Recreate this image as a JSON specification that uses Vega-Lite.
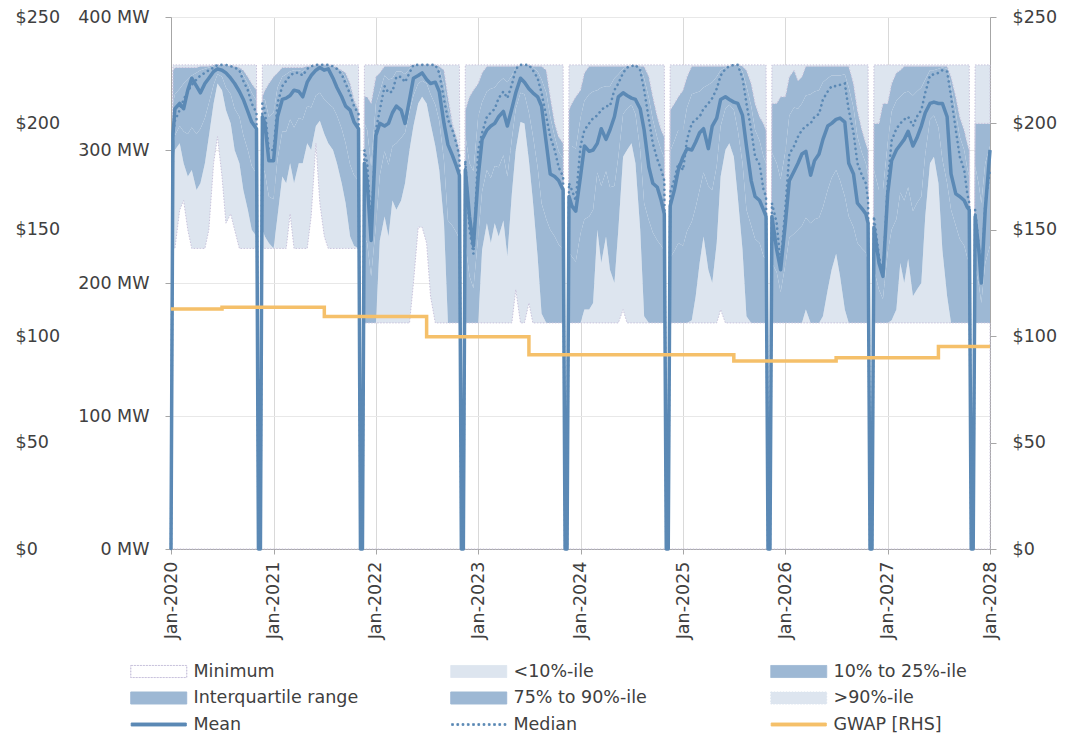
{
  "$schema": "https://vega.github.io/schema/vega-lite/v6.json",
  "width": 819,
  "height": 532,
  "autosize": {"type": "none"},
  "padding": {"left": 171, "top": 17, "right": 89, "bottom": 189},
  "config": {
    "font": "DejaVu Sans",
    "view": {"stroke": null},
    "axis": {"labelFontSize": 17.5, "labelColor": "#404040", "labelFont": "DejaVu Sans", "domainColor": "#a6a6a6", "tickColor": "#a6a6a6", "labelFlush": false, "labelOverlap": false}
  },
  "datasets": {
    "dispatch": [
      {"d":"2020-01-01","mn":0,"p10":0,"p25":0,"p75":0,"p90":0,"mx":0,"avg":0,"med":0},
      {"d":"2020-01-08","mn":226,"p10":290,"p25":300,"p75":335,"p90":360,"mx":364,"avg":312,"med":310},
      {"d":"2020-01-15","mn":226,"p10":300,"p25":311,"p75":342,"p90":362,"mx":364,"avg":331,"med":322},
      {"d":"2020-02-01","mn":255,"p10":305,"p25":318,"p75":346,"p90":362,"mx":364,"avg":335,"med":330},
      {"d":"2020-02-15","mn":262,"p10":290,"p25":314,"p75":350,"p90":362,"mx":364,"avg":331,"med":338},
      {"d":"2020-03-01","mn":240,"p10":280,"p25":312,"p75":353,"p90":362,"mx":364,"avg":345,"med":344},
      {"d":"2020-03-15","mn":226,"p10":285,"p25":317,"p75":356,"p90":362,"mx":364,"avg":354,"med":349},
      {"d":"2020-04-01","mn":226,"p10":270,"p25":312,"p75":358,"p90":362,"mx":364,"avg":348,"med":353},
      {"d":"2020-04-15","mn":226,"p10":275,"p25":316,"p75":360,"p90":363,"mx":364,"avg":343,"med":356},
      {"d":"2020-05-01","mn":226,"p10":290,"p25":324,"p75":361,"p90":363,"mx":364,"avg":350,"med":358},
      {"d":"2020-05-15","mn":240,"p10":310,"p25":335,"p75":362,"p90":363,"mx":364,"avg":354,"med":360},
      {"d":"2020-06-01","mn":290,"p10":335,"p25":349,"p75":363,"p90":364,"mx":364,"avg":359,"med":362},
      {"d":"2020-06-15","mn":310,"p10":350,"p25":357,"p75":364,"p90":364,"mx":364,"avg":361,"med":364},
      {"d":"2020-07-01","mn":280,"p10":345,"p25":355,"p75":364,"p90":364,"mx":364,"avg":360,"med":364},
      {"d":"2020-07-15","mn":245,"p10":330,"p25":347,"p75":364,"p90":364,"mx":364,"avg":358,"med":364},
      {"d":"2020-08-01","mn":252,"p10":320,"p25":342,"p75":363,"p90":363,"mx":364,"avg":354,"med":363},
      {"d":"2020-08-15","mn":240,"p10":300,"p25":331,"p75":363,"p90":363,"mx":364,"avg":350,"med":362},
      {"d":"2020-09-01","mn":226,"p10":290,"p25":325,"p75":361,"p90":362,"mx":364,"avg":344,"med":360},
      {"d":"2020-09-15","mn":226,"p10":270,"p25":311,"p75":356,"p90":360,"mx":364,"avg":338,"med":352},
      {"d":"2020-10-01","mn":226,"p10":255,"p25":300,"p75":350,"p90":355,"mx":364,"avg":329,"med":345},
      {"d":"2020-10-15","mn":226,"p10":240,"p25":288,"p75":343,"p90":350,"mx":364,"avg":321,"med":335},
      {"d":"2020-11-01","mn":226,"p10":235,"p25":282,"p75":337,"p90":345,"mx":364,"avg":316,"med":328},
      {"d":"2020-11-08","mn":0,"p10":0,"p25":0,"p75":0,"p90":0,"mx":0,"avg":0,"med":0},
      {"d":"2020-11-15","mn":0,"p10":0,"p25":0,"p75":0,"p90":0,"mx":0,"avg":0,"med":0},
      {"d":"2020-11-22","mn":226,"p10":240,"p25":288,"p75":338,"p90":340,"mx":364,"avg":325,"med":335},
      {"d":"2020-12-01","mn":226,"p10":235,"p25":283,"p75":338,"p90":345,"mx":364,"avg":320,"med":330},
      {"d":"2020-12-15","mn":226,"p10":230,"p25":265,"p75":325,"p90":350,"mx":364,"avg":292,"med":300},
      {"d":"2021-01-01","mn":226,"p10":226,"p25":263,"p75":328,"p90":355,"mx":364,"avg":292,"med":300},
      {"d":"2021-01-15","mn":226,"p10":250,"p25":293,"p75":347,"p90":358,"mx":364,"avg":325,"med":335},
      {"d":"2021-02-01","mn":226,"p10":280,"p25":314,"p75":355,"p90":362,"mx":364,"avg":338,"med":348},
      {"d":"2021-02-15","mn":226,"p10":275,"p25":314,"p75":357,"p90":362,"mx":364,"avg":339,"med":352},
      {"d":"2021-03-01","mn":252,"p10":290,"p25":323,"p75":359,"p90":362,"mx":364,"avg":341,"med":356},
      {"d":"2021-03-15","mn":226,"p10":275,"p25":317,"p75":360,"p90":362,"mx":364,"avg":345,"med":358},
      {"d":"2021-04-01","mn":226,"p10":290,"p25":324,"p75":360,"p90":362,"mx":364,"avg":344,"med":358},
      {"d":"2021-04-15","mn":226,"p10":290,"p25":323,"p75":359,"p90":362,"mx":364,"avg":340,"med":356},
      {"d":"2021-05-01","mn":226,"p10":305,"p25":333,"p75":362,"p90":363,"mx":364,"avg":351,"med":361},
      {"d":"2021-05-15","mn":250,"p10":300,"p25":332,"p75":363,"p90":363,"mx":364,"avg":356,"med":363},
      {"d":"2021-06-01","mn":305,"p10":318,"p25":341,"p75":364,"p90":364,"mx":364,"avg":360,"med":364},
      {"d":"2021-06-15","mn":260,"p10":322,"p25":343,"p75":364,"p90":364,"mx":364,"avg":362,"med":364},
      {"d":"2021-07-01","mn":235,"p10":312,"p25":338,"p75":364,"p90":364,"mx":364,"avg":360,"med":364},
      {"d":"2021-07-15","mn":226,"p10":305,"p25":335,"p75":364,"p90":364,"mx":364,"avg":361,"med":364},
      {"d":"2021-08-01","mn":226,"p10":300,"p25":332,"p75":363,"p90":363,"mx":364,"avg":354,"med":363},
      {"d":"2021-08-15","mn":226,"p10":290,"p25":326,"p75":362,"p90":362,"mx":364,"avg":347,"med":361},
      {"d":"2021-09-01","mn":226,"p10":275,"p25":316,"p75":359,"p90":360,"mx":364,"avg":340,"med":357},
      {"d":"2021-09-15","mn":226,"p10":260,"p25":305,"p75":354,"p90":358,"mx":364,"avg":333,"med":350},
      {"d":"2021-10-01","mn":226,"p10":235,"p25":289,"p75":346,"p90":350,"mx":364,"avg":330,"med":342},
      {"d":"2021-10-15","mn":226,"p10":228,"p25":281,"p75":336,"p90":338,"mx":364,"avg":321,"med":333},
      {"d":"2021-10-31","mn":226,"p10":226,"p25":277,"p75":329,"p90":330,"mx":364,"avg":316,"med":327},
      {"d":"2021-11-07","mn":0,"p10":0,"p25":0,"p75":0,"p90":0,"mx":0,"avg":0,"med":0},
      {"d":"2021-11-14","mn":0,"p10":0,"p25":0,"p75":0,"p90":0,"mx":0,"avg":0,"med":0},
      {"d":"2021-11-21","mn":170,"p10":170,"p25":235,"p75":320,"p90":340,"mx":364,"avg":290,"med":300},
      {"d":"2021-12-01","mn":170,"p10":170,"p25":230,"p75":315,"p90":340,"mx":364,"avg":275,"med":290},
      {"d":"2021-12-15","mn":170,"p10":170,"p25":205,"p75":288,"p90":335,"mx":364,"avg":232,"med":240},
      {"d":"2022-01-01","mn":170,"p10":170,"p25":243,"p75":335,"p90":355,"mx":364,"avg":311,"med":315},
      {"d":"2022-01-15","mn":170,"p10":232,"p25":281,"p75":344,"p90":358,"mx":364,"avg":320,"med":330},
      {"d":"2022-02-01","mn":170,"p10":250,"p25":299,"p75":356,"p90":363,"mx":364,"avg":318,"med":348},
      {"d":"2022-02-15","mn":170,"p10":235,"p25":289,"p75":353,"p90":363,"mx":364,"avg":320,"med":343},
      {"d":"2022-03-01","mn":170,"p10":262,"p25":303,"p75":354,"p90":363,"mx":364,"avg":328,"med":344},
      {"d":"2022-03-15","mn":170,"p10":255,"p25":305,"p75":359,"p90":363,"mx":364,"avg":333,"med":355},
      {"d":"2022-04-01","mn":170,"p10":262,"p25":309,"p75":359,"p90":363,"mx":364,"avg":330,"med":355},
      {"d":"2022-04-15","mn":170,"p10":275,"p25":313,"p75":357,"p90":363,"mx":364,"avg":320,"med":351},
      {"d":"2022-05-01","mn":170,"p10":300,"p25":329,"p75":361,"p90":363,"mx":364,"avg":338,"med":358},
      {"d":"2022-05-15","mn":200,"p10":318,"p25":341,"p75":364,"p90":364,"mx":364,"avg":354,"med":364},
      {"d":"2022-06-01","mn":242,"p10":335,"p25":350,"p75":364,"p90":364,"mx":364,"avg":356,"med":364},
      {"d":"2022-06-15","mn":242,"p10":340,"p25":352,"p75":364,"p90":364,"mx":364,"avg":358,"med":364},
      {"d":"2022-07-01","mn":230,"p10":335,"p25":350,"p75":364,"p90":364,"mx":364,"avg":353,"med":364},
      {"d":"2022-07-15","mn":190,"p10":320,"p25":342,"p75":364,"p90":364,"mx":364,"avg":350,"med":364},
      {"d":"2022-08-01","mn":170,"p10":303,"p25":334,"p75":364,"p90":364,"mx":364,"avg":351,"med":364},
      {"d":"2022-08-15","mn":170,"p10":285,"p25":322,"p75":361,"p90":363,"mx":364,"avg":344,"med":358},
      {"d":"2022-09-01","mn":170,"p10":245,"p25":292,"p75":349,"p90":360,"mx":364,"avg":320,"med":338},
      {"d":"2022-09-15","mn":170,"p10":170,"p25":247,"p75":332,"p90":340,"mx":364,"avg":304,"med":323},
      {"d":"2022-10-01","mn":170,"p10":170,"p25":243,"p75":318,"p90":320,"mx":364,"avg":296,"med":315},
      {"d":"2022-10-15","mn":170,"p10":170,"p25":238,"p75":308,"p90":310,"mx":364,"avg":288,"med":305},
      {"d":"2022-10-26","mn":170,"p10":170,"p25":233,"p75":298,"p90":300,"mx":364,"avg":281,"med":295},
      {"d":"2022-11-02","mn":0,"p10":0,"p25":0,"p75":0,"p90":0,"mx":0,"avg":0,"med":0},
      {"d":"2022-11-09","mn":0,"p10":0,"p25":0,"p75":0,"p90":0,"mx":0,"avg":0,"med":0},
      {"d":"2022-11-16","mn":170,"p10":170,"p25":231,"p75":311,"p90":330,"mx":364,"avg":285,"med":292},
      {"d":"2022-12-01","mn":170,"p10":170,"p25":205,"p75":290,"p90":340,"mx":364,"avg":250,"med":240},
      {"d":"2022-12-15","mn":170,"p10":170,"p25":196,"p75":284,"p90":345,"mx":364,"avg":228,"med":222},
      {"d":"2023-01-01","mn":170,"p10":170,"p25":235,"p75":325,"p90":350,"mx":364,"avg":280,"med":300},
      {"d":"2023-01-15","mn":170,"p10":225,"p25":269,"p75":336,"p90":358,"mx":364,"avg":308,"med":313},
      {"d":"2023-02-01","mn":170,"p10":245,"p25":285,"p75":344,"p90":363,"mx":364,"avg":315,"med":325},
      {"d":"2023-02-15","mn":170,"p10":230,"p25":279,"p75":346,"p90":363,"mx":364,"avg":318,"med":328},
      {"d":"2023-03-01","mn":170,"p10":245,"p25":288,"p75":347,"p90":363,"mx":364,"avg":320,"med":331},
      {"d":"2023-03-15","mn":170,"p10":235,"p25":287,"p75":351,"p90":363,"mx":364,"avg":325,"med":339},
      {"d":"2023-04-01","mn":170,"p10":247,"p25":296,"p75":354,"p90":363,"mx":364,"avg":329,"med":344},
      {"d":"2023-04-15","mn":170,"p10":220,"p25":280,"p75":351,"p90":363,"mx":364,"avg":318,"med":339},
      {"d":"2023-05-01","mn":170,"p10":267,"p25":308,"p75":356,"p90":363,"mx":364,"avg":331,"med":349},
      {"d":"2023-05-15","mn":195,"p10":300,"p25":331,"p75":362,"p90":363,"mx":364,"avg":343,"med":361},
      {"d":"2023-06-01","mn":170,"p10":321,"p25":343,"p75":364,"p90":364,"mx":364,"avg":354,"med":364},
      {"d":"2023-06-15","mn":170,"p10":320,"p25":342,"p75":364,"p90":364,"mx":364,"avg":351,"med":364},
      {"d":"2023-07-01","mn":185,"p10":292,"p25":328,"p75":364,"p90":364,"mx":364,"avg":346,"med":364},
      {"d":"2023-07-15","mn":170,"p10":262,"p25":311,"p75":362,"p90":363,"mx":364,"avg":343,"med":360},
      {"d":"2023-08-01","mn":170,"p10":220,"p25":287,"p75":359,"p90":363,"mx":364,"avg":340,"med":354},
      {"d":"2023-08-15","mn":170,"p10":177,"p25":260,"p75":353,"p90":363,"mx":364,"avg":333,"med":343},
      {"d":"2023-09-01","mn":170,"p10":170,"p25":248,"p75":343,"p90":360,"mx":364,"avg":305,"med":325},
      {"d":"2023-09-15","mn":170,"p10":170,"p25":240,"p75":325,"p90":340,"mx":364,"avg":282,"med":310},
      {"d":"2023-10-01","mn":170,"p10":170,"p25":235,"p75":310,"p90":320,"mx":364,"avg":280,"med":300},
      {"d":"2023-10-15","mn":170,"p10":170,"p25":229,"p75":299,"p90":310,"mx":364,"avg":277,"med":287},
      {"d":"2023-10-31","mn":170,"p10":170,"p25":225,"p75":293,"p90":305,"mx":364,"avg":270,"med":280},
      {"d":"2023-11-07","mn":0,"p10":0,"p25":0,"p75":0,"p90":0,"mx":0,"avg":0,"med":0},
      {"d":"2023-11-14","mn":0,"p10":0,"p25":0,"p75":0,"p90":0,"mx":0,"avg":0,"med":0},
      {"d":"2023-11-21","mn":170,"p10":170,"p25":223,"p75":303,"p90":330,"mx":364,"avg":265,"med":275},
      {"d":"2023-12-01","mn":170,"p10":170,"p25":220,"p75":303,"p90":335,"mx":364,"avg":258,"med":270},
      {"d":"2023-12-15","mn":170,"p10":170,"p25":216,"p75":301,"p90":340,"mx":364,"avg":254,"med":262},
      {"d":"2024-01-01","mn":170,"p10":170,"p25":237,"p75":324,"p90":345,"mx":364,"avg":280,"med":303},
      {"d":"2024-01-15","mn":170,"p10":180,"p25":248,"p75":337,"p90":358,"mx":364,"avg":303,"med":315},
      {"d":"2024-02-01","mn":170,"p10":180,"p25":250,"p75":342,"p90":363,"mx":364,"avg":299,"med":320},
      {"d":"2024-02-15","mn":170,"p10":185,"p25":255,"p75":344,"p90":363,"mx":364,"avg":300,"med":324},
      {"d":"2024-03-01","mn":170,"p10":240,"p25":283,"p75":345,"p90":363,"mx":364,"avg":305,"med":326},
      {"d":"2024-03-15","mn":170,"p10":215,"p25":273,"p75":347,"p90":363,"mx":364,"avg":316,"med":330},
      {"d":"2024-04-01","mn":170,"p10":235,"p25":284,"p75":348,"p90":363,"mx":364,"avg":308,"med":333},
      {"d":"2024-04-15","mn":170,"p10":210,"p25":272,"p75":348,"p90":363,"mx":364,"avg":315,"med":333},
      {"d":"2024-05-01","mn":170,"p10":200,"p25":273,"p75":354,"p90":363,"mx":364,"avg":325,"med":345},
      {"d":"2024-05-15","mn":170,"p10":240,"p25":295,"p75":357,"p90":363,"mx":364,"avg":340,"med":350},
      {"d":"2024-06-01","mn":180,"p10":295,"p25":327,"p75":361,"p90":363,"mx":364,"avg":343,"med":358},
      {"d":"2024-06-15","mn":170,"p10":300,"p25":331,"p75":363,"p90":363,"mx":364,"avg":341,"med":362},
      {"d":"2024-07-01","mn":170,"p10":305,"p25":334,"p75":363,"p90":363,"mx":364,"avg":339,"med":363},
      {"d":"2024-07-15","mn":170,"p10":290,"p25":327,"p75":364,"p90":364,"mx":364,"avg":338,"med":364},
      {"d":"2024-08-01","mn":170,"p10":240,"p25":300,"p75":362,"p90":363,"mx":364,"avg":331,"med":360},
      {"d":"2024-08-15","mn":170,"p10":175,"p25":260,"p75":354,"p90":363,"mx":364,"avg":315,"med":345},
      {"d":"2024-09-01","mn":170,"p10":170,"p25":247,"p75":339,"p90":355,"mx":364,"avg":287,"med":323},
      {"d":"2024-09-15","mn":170,"p10":170,"p25":238,"p75":323,"p90":340,"mx":364,"avg":275,"med":305},
      {"d":"2024-10-01","mn":170,"p10":170,"p25":232,"p75":309,"p90":325,"mx":364,"avg":272,"med":293},
      {"d":"2024-10-15","mn":170,"p10":170,"p25":228,"p75":300,"p90":315,"mx":364,"avg":262,"med":285},
      {"d":"2024-10-26","mn":170,"p10":170,"p25":224,"p75":294,"p90":310,"mx":364,"avg":252,"med":277},
      {"d":"2024-11-02","mn":0,"p10":0,"p25":0,"p75":0,"p90":0,"mx":0,"avg":0,"med":0},
      {"d":"2024-11-09","mn":0,"p10":0,"p25":0,"p75":0,"p90":0,"mx":0,"avg":0,"med":0},
      {"d":"2024-11-16","mn":170,"p10":170,"p25":219,"p75":299,"p90":330,"mx":364,"avg":258,"med":268},
      {"d":"2024-12-01","mn":170,"p10":170,"p25":224,"p75":307,"p90":335,"mx":364,"avg":270,"med":278},
      {"d":"2024-12-15","mn":170,"p10":170,"p25":230,"p75":315,"p90":340,"mx":364,"avg":285,"med":290},
      {"d":"2025-01-01","mn":170,"p10":170,"p25":228,"p75":315,"p90":345,"mx":364,"avg":295,"med":285},
      {"d":"2025-01-15","mn":170,"p10":170,"p25":239,"p75":332,"p90":355,"mx":364,"avg":301,"med":308},
      {"d":"2025-02-01","mn":170,"p10":172,"p25":246,"p75":342,"p90":363,"mx":364,"avg":300,"med":320},
      {"d":"2025-02-15","mn":170,"p10":190,"p25":257,"p75":343,"p90":363,"mx":364,"avg":306,"med":323},
      {"d":"2025-03-01","mn":170,"p10":215,"p25":270,"p75":344,"p90":363,"mx":364,"avg":313,"med":325},
      {"d":"2025-03-15","mn":170,"p10":235,"p25":283,"p75":347,"p90":363,"mx":364,"avg":316,"med":331},
      {"d":"2025-04-01","mn":170,"p10":210,"p25":273,"p75":349,"p90":363,"mx":364,"avg":301,"med":335},
      {"d":"2025-04-15","mn":170,"p10":200,"p25":270,"p75":351,"p90":363,"mx":364,"avg":318,"med":339},
      {"d":"2025-05-01","mn":170,"p10":230,"p25":288,"p75":355,"p90":363,"mx":364,"avg":324,"med":346},
      {"d":"2025-05-15","mn":180,"p10":280,"p25":318,"p75":360,"p90":363,"mx":364,"avg":338,"med":356},
      {"d":"2025-06-01","mn":170,"p10":300,"p25":331,"p75":362,"p90":363,"mx":364,"avg":340,"med":361},
      {"d":"2025-06-15","mn":170,"p10":305,"p25":334,"p75":363,"p90":363,"mx":364,"avg":338,"med":363},
      {"d":"2025-07-01","mn":170,"p10":295,"p25":330,"p75":364,"p90":364,"mx":364,"avg":336,"med":364},
      {"d":"2025-07-15","mn":170,"p10":265,"p25":315,"p75":364,"p90":364,"mx":364,"avg":335,"med":364},
      {"d":"2025-08-01","mn":170,"p10":225,"p25":290,"p75":359,"p90":363,"mx":364,"avg":326,"med":354},
      {"d":"2025-08-15","mn":170,"p10":175,"p25":255,"p75":348,"p90":360,"mx":364,"avg":303,"med":335},
      {"d":"2025-09-01","mn":170,"p10":170,"p25":243,"p75":333,"p90":350,"mx":364,"avg":277,"med":315},
      {"d":"2025-09-15","mn":170,"p10":170,"p25":233,"p75":315,"p90":335,"mx":364,"avg":265,"med":295},
      {"d":"2025-10-01","mn":170,"p10":170,"p25":230,"p75":307,"p90":325,"mx":364,"avg":262,"med":289},
      {"d":"2025-10-15","mn":170,"p10":170,"p25":220,"p75":295,"p90":320,"mx":364,"avg":255,"med":270},
      {"d":"2025-10-24","mn":170,"p10":170,"p25":218,"p75":290,"p90":315,"mx":364,"avg":250,"med":265},
      {"d":"2025-10-31","mn":0,"p10":0,"p25":0,"p75":0,"p90":0,"mx":0,"avg":0,"med":0},
      {"d":"2025-11-07","mn":0,"p10":0,"p25":0,"p75":0,"p90":0,"mx":0,"avg":0,"med":0},
      {"d":"2025-11-14","mn":170,"p10":170,"p25":215,"p75":298,"p90":335,"mx":364,"avg":250,"med":260},
      {"d":"2025-12-01","mn":170,"p10":170,"p25":208,"p75":290,"p90":335,"mx":364,"avg":225,"med":245},
      {"d":"2025-12-15","mn":170,"p10":170,"p25":193,"p75":278,"p90":340,"mx":364,"avg":210,"med":215},
      {"d":"2026-01-01","mn":170,"p10":170,"p25":214,"p75":299,"p90":340,"mx":364,"avg":245,"med":257},
      {"d":"2026-01-15","mn":170,"p10":170,"p25":234,"p75":326,"p90":355,"mx":364,"avg":277,"med":297},
      {"d":"2026-02-01","mn":170,"p10":170,"p25":237,"p75":332,"p90":360,"mx":364,"avg":284,"med":303},
      {"d":"2026-02-15","mn":170,"p10":170,"p25":240,"p75":331,"p90":352,"mx":364,"avg":290,"med":310},
      {"d":"2026-03-01","mn":170,"p10":170,"p25":243,"p75":335,"p90":355,"mx":364,"avg":297,"med":315},
      {"d":"2026-03-15","mn":170,"p10":180,"p25":249,"p75":341,"p90":363,"mx":364,"avg":299,"med":318},
      {"d":"2026-04-01","mn":170,"p10":170,"p25":245,"p75":342,"p90":363,"mx":364,"avg":281,"med":320},
      {"d":"2026-04-15","mn":170,"p10":170,"p25":248,"p75":344,"p90":363,"mx":364,"avg":292,"med":325},
      {"d":"2026-05-01","mn":170,"p10":170,"p25":249,"p75":345,"p90":363,"mx":364,"avg":297,"med":327},
      {"d":"2026-05-15","mn":170,"p10":175,"p25":257,"p75":351,"p90":363,"mx":364,"avg":308,"med":338},
      {"d":"2026-06-01","mn":170,"p10":195,"p25":270,"p75":354,"p90":363,"mx":364,"avg":318,"med":344},
      {"d":"2026-06-15","mn":170,"p10":210,"p25":279,"p75":356,"p90":363,"mx":364,"avg":320,"med":348},
      {"d":"2026-07-01","mn":170,"p10":222,"p25":285,"p75":356,"p90":363,"mx":364,"avg":323,"med":348},
      {"d":"2026-07-15","mn":170,"p10":205,"p25":277,"p75":356,"p90":363,"mx":364,"avg":324,"med":349},
      {"d":"2026-08-01","mn":170,"p10":180,"p25":265,"p75":357,"p90":363,"mx":364,"avg":321,"med":350},
      {"d":"2026-08-15","mn":170,"p10":170,"p25":250,"p75":347,"p90":363,"mx":364,"avg":290,"med":330},
      {"d":"2026-09-01","mn":170,"p10":170,"p25":242,"p75":332,"p90":350,"mx":364,"avg":282,"med":313},
      {"d":"2026-09-15","mn":170,"p10":170,"p25":230,"p75":310,"p90":330,"mx":364,"avg":260,"med":290},
      {"d":"2026-10-01","mn":170,"p10":170,"p25":226,"p75":298,"p90":315,"mx":364,"avg":256,"med":281},
      {"d":"2026-10-15","mn":170,"p10":170,"p25":223,"p75":290,"p90":305,"mx":364,"avg":252,"med":275},
      {"d":"2026-10-23","mn":170,"p10":170,"p25":216,"p75":281,"p90":300,"mx":364,"avg":245,"med":262},
      {"d":"2026-10-30","mn":0,"p10":0,"p25":0,"p75":0,"p90":0,"mx":0,"avg":0,"med":0},
      {"d":"2026-11-06","mn":0,"p10":0,"p25":0,"p75":0,"p90":0,"mx":0,"avg":0,"med":0},
      {"d":"2026-11-13","mn":170,"p10":170,"p25":210,"p75":285,"p90":320,"mx":364,"avg":242,"med":250},
      {"d":"2026-12-01","mn":170,"p10":170,"p25":195,"p75":270,"p90":320,"mx":364,"avg":215,"med":220},
      {"d":"2026-12-15","mn":170,"p10":170,"p25":188,"p75":270,"p90":335,"mx":364,"avg":205,"med":205},
      {"d":"2027-01-01","mn":170,"p10":170,"p25":223,"p75":305,"p90":335,"mx":364,"avg":267,"med":275},
      {"d":"2027-01-15","mn":170,"p10":172,"p25":240,"p75":329,"p90":350,"mx":364,"avg":292,"med":307},
      {"d":"2027-02-01","mn":170,"p10":180,"p25":248,"p75":337,"p90":358,"mx":364,"avg":300,"med":316},
      {"d":"2027-02-15","mn":170,"p10":215,"p25":268,"p75":340,"p90":360,"mx":364,"avg":304,"med":320},
      {"d":"2027-03-01","mn":170,"p10":200,"p25":262,"p75":343,"p90":363,"mx":364,"avg":308,"med":323},
      {"d":"2027-03-15","mn":170,"p10":218,"p25":272,"p75":344,"p90":363,"mx":364,"avg":314,"med":325},
      {"d":"2027-04-01","mn":170,"p10":190,"p25":254,"p75":341,"p90":363,"mx":364,"avg":303,"med":318},
      {"d":"2027-04-15","mn":170,"p10":195,"p25":260,"p75":344,"p90":363,"mx":364,"avg":309,"med":325},
      {"d":"2027-05-01","mn":170,"p10":200,"p25":265,"p75":347,"p90":363,"mx":364,"avg":318,"med":330},
      {"d":"2027-05-15","mn":170,"p10":250,"p25":297,"p75":353,"p90":363,"mx":364,"avg":328,"med":343},
      {"d":"2027-06-01","mn":170,"p10":290,"p25":323,"p75":360,"p90":363,"mx":364,"avg":335,"med":356},
      {"d":"2027-06-15","mn":170,"p10":295,"p25":326,"p75":360,"p90":363,"mx":364,"avg":336,"med":357},
      {"d":"2027-07-01","mn":170,"p10":275,"p25":317,"p75":361,"p90":363,"mx":364,"avg":335,"med":358},
      {"d":"2027-07-15","mn":170,"p10":225,"p25":293,"p75":362,"p90":363,"mx":364,"avg":335,"med":360},
      {"d":"2027-08-01","mn":170,"p10":190,"p25":275,"p75":361,"p90":363,"mx":364,"avg":325,"med":359},
      {"d":"2027-08-15","mn":170,"p10":170,"p25":255,"p75":348,"p90":355,"mx":364,"avg":282,"med":340},
      {"d":"2027-09-01","mn":170,"p10":170,"p25":243,"p75":328,"p90":340,"mx":364,"avg":267,"med":315},
      {"d":"2027-09-15","mn":170,"p10":170,"p25":233,"p75":310,"p90":325,"mx":364,"avg":265,"med":295},
      {"d":"2027-10-01","mn":170,"p10":170,"p25":228,"p75":300,"p90":315,"mx":364,"avg":262,"med":285},
      {"d":"2027-10-12","mn":170,"p10":170,"p25":219,"p75":286,"p90":305,"mx":364,"avg":257,"med":267},
      {"d":"2027-10-19","mn":170,"p10":170,"p25":215,"p75":280,"p90":300,"mx":364,"avg":255,"med":260},
      {"d":"2027-10-26","mn":0,"p10":0,"p25":0,"p75":0,"p90":0,"mx":0,"avg":0,"med":0},
      {"d":"2027-11-02","mn":0,"p10":0,"p25":0,"p75":0,"p90":0,"mx":0,"avg":0,"med":0},
      {"d":"2027-11-09","mn":170,"p10":170,"p25":213,"p75":288,"p90":320,"mx":364,"avg":250,"med":255},
      {"d":"2027-11-22","mn":170,"p10":170,"p25":199,"p75":274,"p90":320,"mx":364,"avg":225,"med":228},
      {"d":"2027-12-01","mn":170,"p10":170,"p25":185,"p75":260,"p90":320,"mx":364,"avg":200,"med":200},
      {"d":"2027-12-15","mn":170,"p10":170,"p25":215,"p75":290,"p90":320,"mx":364,"avg":255,"med":260},
      {"d":"2028-01-01","mn":170,"p10":170,"p25":228,"p75":303,"p90":320,"mx":364,"avg":300,"med":285}
    ],
    "gwap": [
      {"d":"2020-01-01","gwap":112.8},
      {"d":"2020-07-01","gwap":113.6},
      {"d":"2021-07-01","gwap":109.2},
      {"d":"2022-07-01","gwap":99.8},
      {"d":"2023-07-01","gwap":91.3},
      {"d":"2024-07-01","gwap":91.3},
      {"d":"2025-07-01","gwap":88.3},
      {"d":"2026-07-01","gwap":89.9},
      {"d":"2027-07-01","gwap":95.2},
      {"d":"2028-01-01","gwap":95.2}
    ]
  },
  "encoding": {
    "x": {
      "field": "d",
      "type": "temporal",
      "title": null,
      "scale": {"type": "utc", "domain": [{"year": 2020, "month": 1, "date": 1, "utc": true}, {"year": 2028, "month": 1, "date": 1, "utc": true}]},
      "axis": {
        "values": [
          {"year": 2020, "month": 1, "date": 1, "utc": true},
          {"year": 2021, "month": 1, "date": 1, "utc": true},
          {"year": 2022, "month": 1, "date": 1, "utc": true},
          {"year": 2023, "month": 1, "date": 1, "utc": true},
          {"year": 2024, "month": 1, "date": 1, "utc": true},
          {"year": 2025, "month": 1, "date": 1, "utc": true},
          {"year": 2026, "month": 1, "date": 1, "utc": true},
          {"year": 2027, "month": 1, "date": 1, "utc": true},
          {"year": 2028, "month": 1, "date": 1, "utc": true}
        ],
        "format": "%b-%Y",
        "labelAngle": -90,
        "labelPadding": 7,
        "tickSize": 5,
        "grid": true,
        "gridColor": "#d9d9d9",
        "gridWidth": 1
      }
    }
  },
  "layer": [
    {
      "data": {"name": "dispatch"},
      "layer": [
        {
          "mark": {"type": "area", "opacity": 1},
          "encoding": {
            "y": {
              "field": "mn", "type": "quantitative", "title": null,
              "scale": {"domain": [0, 400], "nice": false},
              "axis": {
                "values": [0, 100, 200, 300, 400],
                "labelExpr": "datum.value + ' MW'",
                "tickSize": 6,
                "labelPadding": 16,
                "grid": true,
                "gridColor": "#e8e8e8"
              }
            },
            "y2": {"field": "p10"},
            "color": {
              "datum": "<10%-ile",
              "type": "nominal",
              "scale": {
                "domain": ["Minimum", "Interquartile range", "Mean", "<10%-ile", "75% to 90%-ile", "Median", "10% to 25%-ile", ">90%-ile", "GWAP [RHS]"],
                "range": ["#c9c3dc", "#9db8d4", "#5b89b5", "#dde5ef", "#9db8d4", "#5b89b5", "#9db8d4", "#dde5ef", "#f5c06a"]
              },
              "legend": {
                "orient": "none",
                "legendX": -41,
                "legendY": 645,
                "title": null,
                "columns": 3,
                "gridAlign": "all",
                "columnPadding": 89,
                "rowPadding": 8.5,
                "padding": 0,
                "labelFontSize": 17.5,
                "labelColor": "#404040",
                "labelFont": "DejaVu Sans",
                "labelLimit": 0,
                "labelOffset": 44.5,
                "symbolSize": 306,
                "symbolStrokeWidth": 1,
                "symbolDash": {"expr": "(datum.value === 'Minimum' || datum.value === '>90%-ile') ? [1.5, 1.5] : [1, 0]"},
                "symbolType": {"expr": "(datum.value === 'Mean' || datum.value === 'GWAP [RHS]') ? 'M-0.95,-0.17H5.35V0.17H-0.95Z' : datum.value === 'Median' ? 'M-0.9,-0.1h0.2v0.2h-0.2Z M-0.3,-0.1h0.2v0.2h-0.2Z M0.3,-0.1h0.2v0.2h-0.2Z M0.9,-0.1h0.2v0.2h-0.2Z M1.5,-0.1h0.2v0.2h-0.2Z M2.1,-0.1h0.2v0.2h-0.2Z M2.7,-0.1h0.2v0.2h-0.2Z M3.3,-0.1h0.2v0.2h-0.2Z M3.9,-0.1h0.2v0.2h-0.2Z M4.5,-0.1h0.2v0.2h-0.2Z M5.1,-0.1h0.2v0.2h-0.2Z' : datum.value === 'Minimum' ? 'M-1,-0.69H5.4V0.69H-1V-0.69V0.69H5.4V-0.69H-1' : 'M-1,-0.69H5.4V0.69H-1Z'"}
              }
            }
          }
        },
        {
          "mark": {"type": "area", "opacity": 1},
          "encoding": {
            "y": {"field": "p10", "type": "quantitative", "title": null},
            "y2": {"field": "p25"},
            "color": {"datum": "10% to 25%-ile", "type": "nominal"}
          }
        },
        {
          "mark": {"type": "area", "opacity": 1},
          "encoding": {
            "y": {"field": "p25", "type": "quantitative", "title": null},
            "y2": {"field": "p75"},
            "color": {"datum": "Interquartile range", "type": "nominal"}
          }
        },
        {
          "mark": {"type": "area", "opacity": 1},
          "encoding": {
            "y": {"field": "p75", "type": "quantitative", "title": null},
            "y2": {"field": "p90"},
            "color": {"datum": "75% to 90%-ile", "type": "nominal"}
          }
        },
        {
          "mark": {"type": "area", "opacity": 1, "stroke": "#c9c3dc", "strokeWidth": 1, "strokeDash": [1.5, 1.5]},
          "encoding": {
            "y": {"field": "p90", "type": "quantitative", "title": null},
            "y2": {"field": "mx"},
            "color": {"datum": ">90%-ile", "type": "nominal"}
          }
        },
        {
          "mark": {"type": "area", "fillOpacity": 0, "stroke": "#c9c3dc", "strokeWidth": 1, "strokeDash": [1.5, 1.5]},
          "encoding": {
            "y": {"field": "mn", "type": "quantitative", "title": null},
            "color": {"datum": "Minimum", "type": "nominal"}
          }
        },
        {
          "mark": {"type": "line", "strokeWidth": 3.5, "strokeJoin": "round"},
          "encoding": {
            "y": {"field": "avg", "type": "quantitative", "title": null},
            "color": {"datum": "Mean", "type": "nominal"}
          }
        },
        {
          "mark": {"type": "line", "strokeWidth": 2.6, "strokeDash": [0.1, 5], "strokeCap": "round"},
          "encoding": {
            "y": {"field": "med", "type": "quantitative", "title": null},
            "color": {"datum": "Median", "type": "nominal"}
          }
        }
      ]
    },
    {
      "data": {"name": "gwap"},
      "mark": {"type": "line", "interpolate": "step-after", "strokeWidth": 3.5},
      "encoding": {
        "y": {
          "field": "gwap", "type": "quantitative", "title": null,
          "scale": {"domain": [0, 250], "nice": false},
          "axis": {
            "orient": "right",
            "values": [0, 50, 100, 150, 200, 250],
            "labelExpr": "'$' + datum.value",
            "tickSize": 6,
            "labelPadding": 16,
            "grid": false
          }
        },
        "color": {"datum": "GWAP [RHS]", "type": "nominal"}
      }
    },
    {
      "data": {"name": "gwap"},
      "mark": {"type": "line", "interpolate": "step-after", "opacity": 0},
      "encoding": {
        "y": {
          "field": "gwap", "type": "quantitative", "title": null,
          "scale": {"domain": [0, 250], "nice": false},
          "axis": {
            "orient": "left",
            "values": [0, 50, 100, 150, 200, 250],
            "labelExpr": "'$' + datum.value",
            "ticks": false,
            "domain": false,
            "grid": false,
            "labelAlign": "left",
            "labelPadding": 156
          }
        }
      }
    }
  ],
  "resolve": {"scale": {"y": "independent"}}
}
